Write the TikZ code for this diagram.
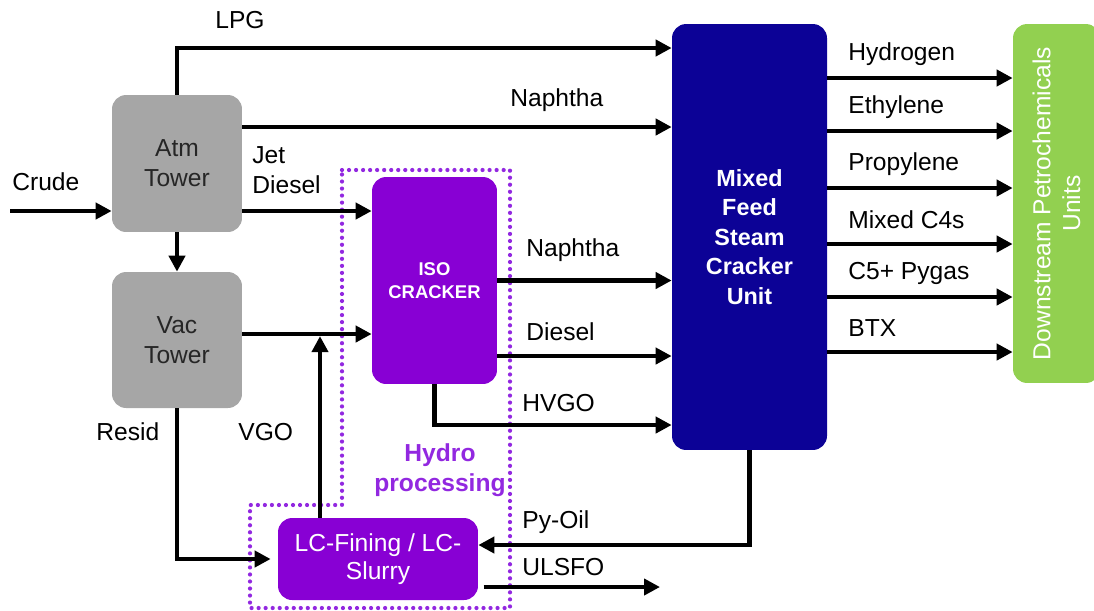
\documentclass[tikz,border=0pt]{standalone}
\usepackage{fontspec}
\setmainfont{Liberation Sans}
\usetikzlibrary{arrows.meta, positioning, calc}
\definecolor{towergray}{RGB}{166,166,166}
\definecolor{hydropurple}{RGB}{136,0,212}
\definecolor{dotpurple}{RGB}{146,40,224}
\definecolor{crackerblue}{RGB}{12,2,150}
\definecolor{downgreen}{RGB}{146,208,80}

\begin{document}
\begin{tikzpicture}[
  x=0.02cm, y=-0.02cm,
  unit/.style={rectangle, rounded corners=8pt, align=center, inner sep=0pt},
  tower/.style={unit, fill=towergray, text=black!85, minimum width=2.6cm,
                minimum height=2.74cm, font=\fontsize{14}{17}\selectfont},
  hydro/.style={unit, fill=hydropurple, text=white},
  lbl/.style={anchor=west, inner sep=0pt, font=\fontsize{14}{17}\selectfont},
  flow/.style={-{Triangle[length=0.32cm, width=0.32cm]}, line width=2.4pt}
]
  \useasboundingbox (0,0) rectangle (1094,610);

  % units
  \node[tower] (atm) at (177,163.5) {Atm\\Tower};
  \node[tower, minimum height=2.72cm] (vac) at (177,340) {Vac\\Tower};
  \node[hydro, minimum width=2.5cm, minimum height=4.14cm,
        font=\bfseries\fontsize{10.5}{13}\selectfont] (iso) at (434.5,280.5) {ISO\\CRACKER};
  \node[hydro, minimum width=4cm, minimum height=1.64cm,
        font=\fontsize{14}{16}\selectfont] (lc) at (378,559) {LC-Fining / LC-\\Slurry};
  \node[unit, fill=crackerblue, text=white, minimum width=3.1cm, minimum height=8.52cm,
        font=\bfseries\fontsize{13.3}{16.8}\selectfont] (mixed) at (749.5,237)
        {Mixed\\Feed\\Steam\\Cracker\\Unit};
  \node[unit, fill=downgreen, minimum width=1.74cm, minimum height=7.18cm] (down) at (1056.5,203.5) {};
  \node[rotate=90, text=white, align=center, font=\fontsize{14}{17}\selectfont] (downtxt)
        at (down.center) {Downstream Petrochemicals\\Units};

  % hydro processing area
  \draw[dotpurple, line width=2.4pt, line cap=round, dash pattern=on 0pt off 4pt]
    (342,170) -- (510,170) -- (510,608) -- (250,608) -- (250,505) -- (342,505) -- cycle;
  \node[text=dotpurple, align=center, font=\bfseries\fontsize{14}{17}\selectfont] (hydrolbl)
        at (440,470) {Hydro\\processing};

  % stream levels
  \coordinate (crudein) at (10,211);
  \coordinate (lpg) at (0,48);
  \coordinate (naph) at (0,127);
  \coordinate (vgo) at (320,334);
  \coordinate (diesel) at (0,356);
  \coordinate (hvgo) at (0,425);
  \coordinate (pyoil) at (0,545);
  \coordinate (ulsfo) at (660,587);

  \draw[flow] (crudein) -- (crudein -| atm.west);
  \draw[flow] (atm.north) |- (mixed.west |- lpg);
  \draw[flow] (atm.east |- naph) -- (mixed.west |- naph);
  \draw[flow] (atm.east |- crudein) -- (iso.west |- crudein);
  \draw[flow] (atm.south) -- (vac.north);
  \draw[flow] (vac.east |- vgo) -- (iso.west |- vgo);
  \draw[flow] (vgo |- lc.north) -- ([yshift=-1.2pt]vgo);
  \draw[flow] (iso.east) -- (mixed.west |- iso.east);
  \draw[flow] (iso.east |- diesel) -- (mixed.west |- diesel);
  \draw[flow] (iso.south) |- (mixed.west |- hvgo);
  \draw[flow] (mixed.south) |- (lc.east |- pyoil);
  \draw[flow] ([xshift=3pt]lc.east |- ulsfo) -- (ulsfo);
  \draw[flow] (vac.south) |- ([xshift=-4pt]lc.west);

  % cracker products
  \foreach \y/\txt in {78/Hydrogen, 131/Ethylene, 188/Propylene, 244/Mixed C4s, 297/C5+ Pygas, 352/BTX} {
    \coordinate (prod) at (0,\y);
    \draw[flow] (mixed.east |- prod) -- (down.west |- prod);
    \node[lbl] (out\y) at (848,\y-24) {\txt};
  }

  % stream labels
  \node[lbl] (lpglbl) at (215,20) {LPG};
  \node[lbl] (crudelbl) at (12,182) {Crude};
  \node[lbl] (naphlbl) at (510,100) {Naphtha};
  \node[lbl, align=left] (jetlbl) at (252,170) {Jet\\Diesel};
  \node[lbl] (isonaph) at (526,250) {Naphtha};
  \node[lbl] (isodiesel) at (526,332) {Diesel};
  \node[lbl] (hvgolbl) at (522,403) {HVGO};
  \node[lbl] (residlbl) at (96,432) {Resid};
  \node[lbl] (vgolbl) at (238,432) {VGO};
  \node[lbl] (pyoillbl) at (522,522) {Py-Oil};
  \node[lbl] (ulsfolbl) at (522,567) {ULSFO};
\end{tikzpicture}
\end{document}
